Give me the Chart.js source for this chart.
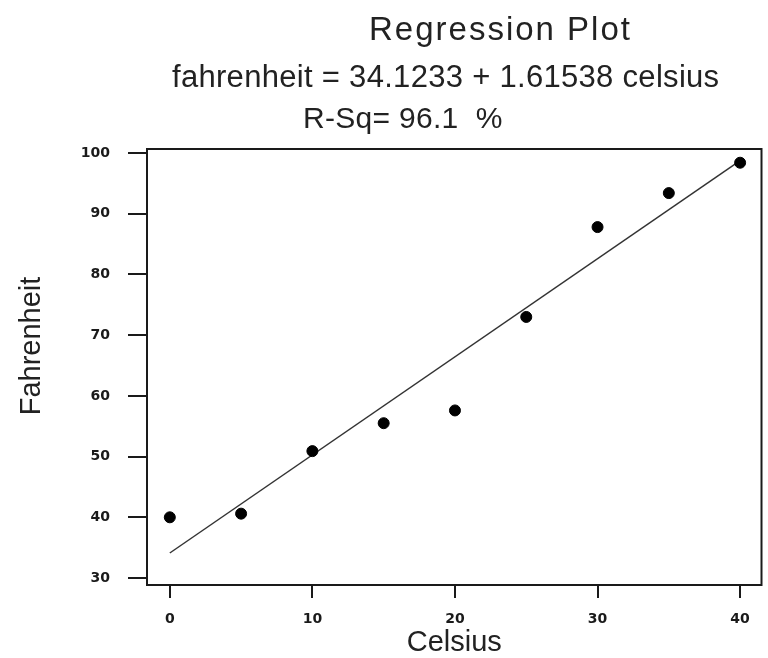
<!DOCTYPE html>
<html>
<head>
<meta charset="utf-8">
<script src="https://cdn.jsdelivr.net/npm/chart.js@4.4.0/dist/chart.umd.min.js"></script>
<style>
  body { margin: 0; background: #fff; }
  #wrap { width: 768px; height: 658px; }
</style>
</head>
<body>
<div id="wrap"><canvas id="reg_chart"></canvas></div>
<script>
const celsius = [0, 5, 10, 15, 20, 25, 30, 35, 40];
const fahrenheit = [40, 40.6, 50.9, 55.5, 57.6, 73, 87.8, 93.4, 98.4];
// fitted line end points (matches the equation in the header)
const fitX = [0, 40];
const fitY = [34.12, 98.74];
const xTicks = [0, 10, 20, 30, 40];
const yTicks = [30, 40, 50, 60, 70, 80, 90, 100];
const heading = 'Regression Plot';
const equation = 'fahrenheit = 34.1233 + 1.61538 celsius';
const rSq = 'R-Sq= 96.1  %';
const xLabel = 'Celsius';
const yLabel = 'Fahrenheit';

const ink = '#1a1a1a';
const textFont = '"Liberation Sans", Arial, sans-serif';
const tickFont = { family: '"DejaVu Sans", sans-serif', size: 14, weight: 'bold' };

// box around the plot + header lines + y label
const frameAndText = {
  id: 'frameAndText',
  afterDraw: (chart) => {
    const { ctx, chartArea } = chart;
    ctx.save();
    ctx.strokeStyle = ink;
    ctx.lineWidth = 2;
    ctx.strokeRect(chartArea.left, chartArea.top,
      chartArea.right - chartArea.left, chartArea.bottom - chartArea.top);

    ctx.fillStyle = '#222';
    ctx.textAlign = 'left';
    ctx.textBaseline = 'alphabetic';
    ctx.font = '33px ' + textFont;
    ctx.letterSpacing = '2px';
    ctx.fillText(heading, 369, 40);
    ctx.font = '31px ' + textFont;
    ctx.letterSpacing = '0.3px';
    ctx.fillText(equation, 172, 87);
    ctx.font = '30px ' + textFont;
    ctx.fillText(rSq, 303, 128);
    ctx.letterSpacing = '0px';

    ctx.translate(32, 346);
    ctx.rotate(-Math.PI / 2);
    ctx.textAlign = 'center';
    ctx.textBaseline = 'middle';
    ctx.font = '29px ' + textFont;
    ctx.fillText(yLabel, 0, 0);
    ctx.restore();
  }
};

const drawChart = () => {
  const ctx = document.getElementById('reg_chart');
  new Chart(ctx, {
    type: 'scatter',
    data: {
      datasets: [{
        label: 'Observed',
        data: celsius.map((c, i) => ({ x: c, y: fahrenheit[i] })),
        backgroundColor: '#000',
        borderColor: '#000',
        pointRadius: 5.5,
        pointHoverRadius: 5.5
      }, {
        label: 'Fit',
        data: fitX.map((c, i) => ({ x: c, y: fitY[i] })),
        showLine: true,
        pointRadius: 0,
        borderColor: '#333',
        borderWidth: 1.5
      }]
    },
    options: {
      responsive: true,
      maintainAspectRatio: false,
      animation: false,
      layout: { padding: { top: 149, right: 3, left: 0, bottom: 0 } },
      plugins: {
        legend: { display: false },
        tooltip: { enabled: false }
      },
      scales: {
        x: {
          type: 'linear',
          min: -1.6,
          max: 41.5,
          afterBuildTicks: (s) => { s.ticks = xTicks.map(v => ({ value: v })); },
          afterFit: (s) => { s.height = 73; },
          border: { display: false },
          grid: { drawOnChartArea: false, tickLength: 13, color: ink, lineWidth: 2 },
          ticks: { font: tickFont, color: ink, padding: 13, maxRotation: 0 },
          title: {
            display: true,
            text: xLabel,
            color: '#222',
            font: { family: textFont, size: 29, lineHeight: 1 },
            padding: { top: 0, bottom: 1 }
          }
        },
        y: {
          min: 28.85,
          max: 100.66,
          afterBuildTicks: (s) => { s.ticks = yTicks.map(v => ({ value: v })); },
          afterFit: (s) => { s.width = 147; },
          border: { display: false },
          grid: { drawOnChartArea: false, tickLength: 19, color: ink, lineWidth: 2 },
          ticks: { font: tickFont, color: ink, padding: 18 }
        }
      }
    },
    plugins: [frameAndText]
  });
};

drawChart();
</script>
</body>
</html>
